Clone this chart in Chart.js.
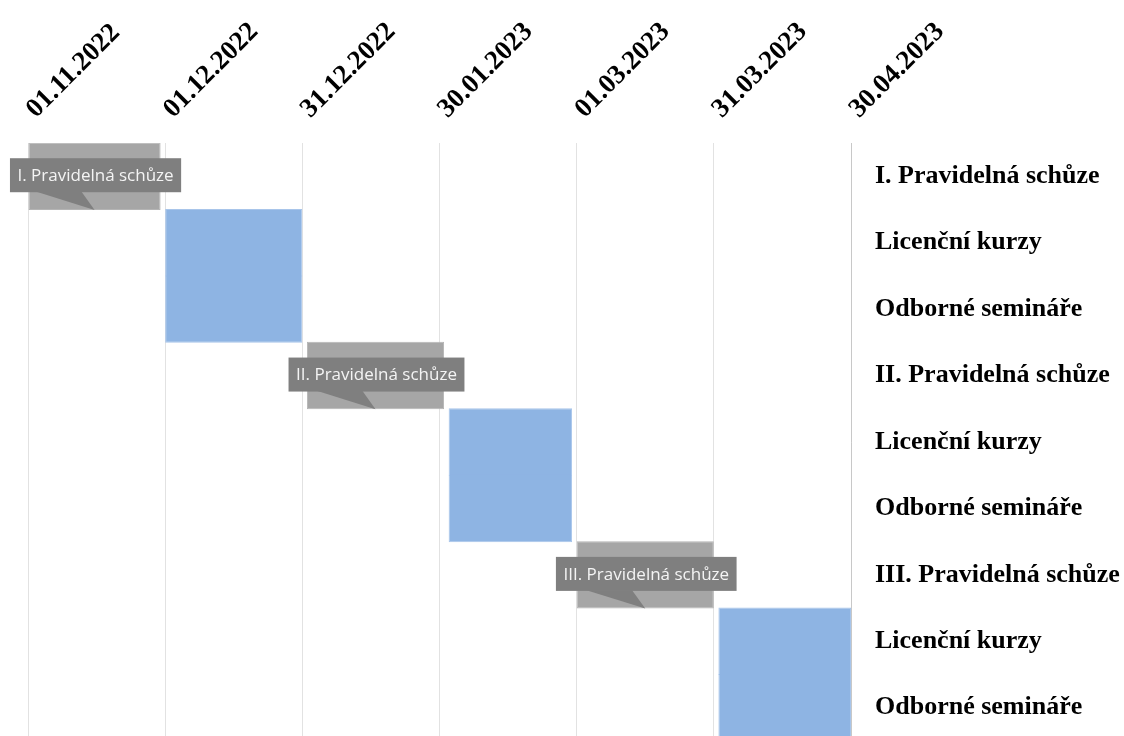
<!DOCTYPE html>
<html>
<head>
<meta charset="utf-8">
<script src="https://cdn.jsdelivr.net/npm/chart.js@4.4.0/dist/chart.umd.min.js"></script>
<style>
  html, body { margin: 0; padding: 0; background: #fff; overflow: hidden; }
  #wrap { position: relative; width: 1124px; height: 741px; }
</style>
</head>
<body>
<div id="wrap"><canvas id="c"></canvas></div>
<script>
// Schedule rows (top to bottom)
const categories = [
  'I. Pravidelná schůze', 'Licenční kurzy', 'Odborné semináře',
  'II. Pravidelná schůze', 'Licenční kurzy', 'Odborné semináře',
  'III. Pravidelná schůze', 'Licenční kurzy', 'Odborné semináře'
];
const startDates = [
  '2022-11-01', '2022-12-01', '2022-12-01',
  '2023-01-01', '2023-02-01', '2023-02-01',
  '2023-03-01', '2023-04-01', '2023-04-01'
];
const endDates = [
  '2022-11-30', '2022-12-31', '2022-12-31',
  '2023-01-31', '2023-02-28', '2023-02-28',
  '2023-03-31', '2023-04-30', '2023-04-30'
];
// Callout text shown on the meeting bars ('' = none)
const callouts = [
  'I. Pravidelná schůze', '', '',
  'II. Pravidelná schůze', '', '',
  'III. Pravidelná schůze', '', ''
];
const tickLabels = ['01.11.2022', '01.12.2022', '31.12.2022', '30.01.2023', '01.03.2023', '31.03.2023', '30.04.2023'];
const axisStart = '2022-11-01';
const tickStepDays = 30;

const DAY = 86400000;
const toDay = s => (Date.parse(s) - Date.parse(axisStart)) / DAY;
const spans = startDates.map((s, i) => [toDay(s), toDay(endDates[i])]);
const axisMax = tickStepDays * (tickLabels.length - 1);
const sameSpan = (a, b) => a && b && a[0] === b[0] && a[1] === b[1];

const meetingFill = '#a6a6a6', meetingEdge = '#b4b4b4';
const courseFill = '#8eb4e3', courseEdge = '#a8c5ea';

// Speech-bubble labels over the meeting bars
const calloutPlugin = {
  id: 'callouts',
  afterDatasetsDraw(chart) {
    const ctx = chart.ctx;
    const meta = chart.getDatasetMeta(0);
    meta.data.forEach((bar, i) => {
      const text = callouts[i];
      if (!text) return;
      const p = bar.getProps(['x', 'y', 'base', 'height'], true);
      const cx = (p.x + p.base) / 2 + 1;
      const cy = p.y - 1;
      ctx.save();
      ctx.font = '17px "Open Sans"';
      const tw = ctx.measureText(text).width;
      const bw = tw + 15, bh = 34;
      const left = cx - bw / 2, top = cy - bh / 2;
      ctx.fillStyle = '#7f7f7f';
      ctx.fillRect(left, top, bw, bh);
      ctx.beginPath();
      ctx.moveTo(cx - 59, top + bh - 0.5);
      ctx.lineTo(cx - 14, top + bh - 0.5);
      ctx.lineTo(cx - 1, p.y + p.height / 2);
      ctx.closePath();
      ctx.fill();
      ctx.fillStyle = '#f4f4f4';
      ctx.textAlign = 'center';
      ctx.textBaseline = 'middle';
      ctx.fillText(text, cx, cy + 1);
      ctx.restore();
    });
  }
};

new Chart(document.getElementById('c'), {
  type: 'bar',
  data: {
    labels: categories,
    datasets: [{
      data: spans,
      backgroundColor: callouts.map(c => c ? meetingFill : courseFill),
      borderColor: callouts.map(c => c ? meetingEdge : courseEdge),
      borderWidth: 1,
      // adjacent rows with the same span read as one block
      borderSkipped: ctx => {
        const i = ctx.dataIndex;
        if (sameSpan(spans[i], spans[i + 1])) return 'bottom';
        if (sameSpan(spans[i], spans[i - 1])) return 'top';
        return false;
      },
      barPercentage: 1.015,
      categoryPercentage: 1
    }]
  },
  options: {
    indexAxis: 'y',
    responsive: true,
    maintainAspectRatio: false,
    animation: false,
    layout: { padding: { left: 28, right: 0, top: 0, bottom: 0 } },
    plugins: { legend: { display: false }, tooltip: { enabled: false } },
    scales: {
      x: {
        type: 'linear',
        position: 'top',
        min: 0,
        max: axisMax,
        afterFit: s => { s.height = 143; s.paddingLeft = 0; s.paddingRight = 0; },
        grid: { color: '#e2e2e2', drawTicks: false },
        border: { display: false },
        ticks: {
          stepSize: tickStepDays,
          autoSkip: false,
          minRotation: 45,
          maxRotation: 45,
          padding: 18,
          labelOffset: 26,
          color: '#000',
          font: { family: '"Liberation Serif", "Times New Roman", serif', weight: 'bold', size: 27 },
          callback: (v, i) => tickLabels[i]
        }
      },
      y: {
        position: 'right',
        afterFit: s => { s.width = 273; s.paddingTop = 0; s.paddingBottom = 0; },
        grid: { display: false },
        border: { display: true, color: '#c8c8c8', width: 1 },
        ticks: {
          padding: 16,
          color: '#000',
          font: { family: '"Liberation Serif", "Times New Roman", serif', weight: 'bold', size: 26 }
        }
      }
    }
  },
  plugins: [calloutPlugin]
});
</script>
</body>
</html>
